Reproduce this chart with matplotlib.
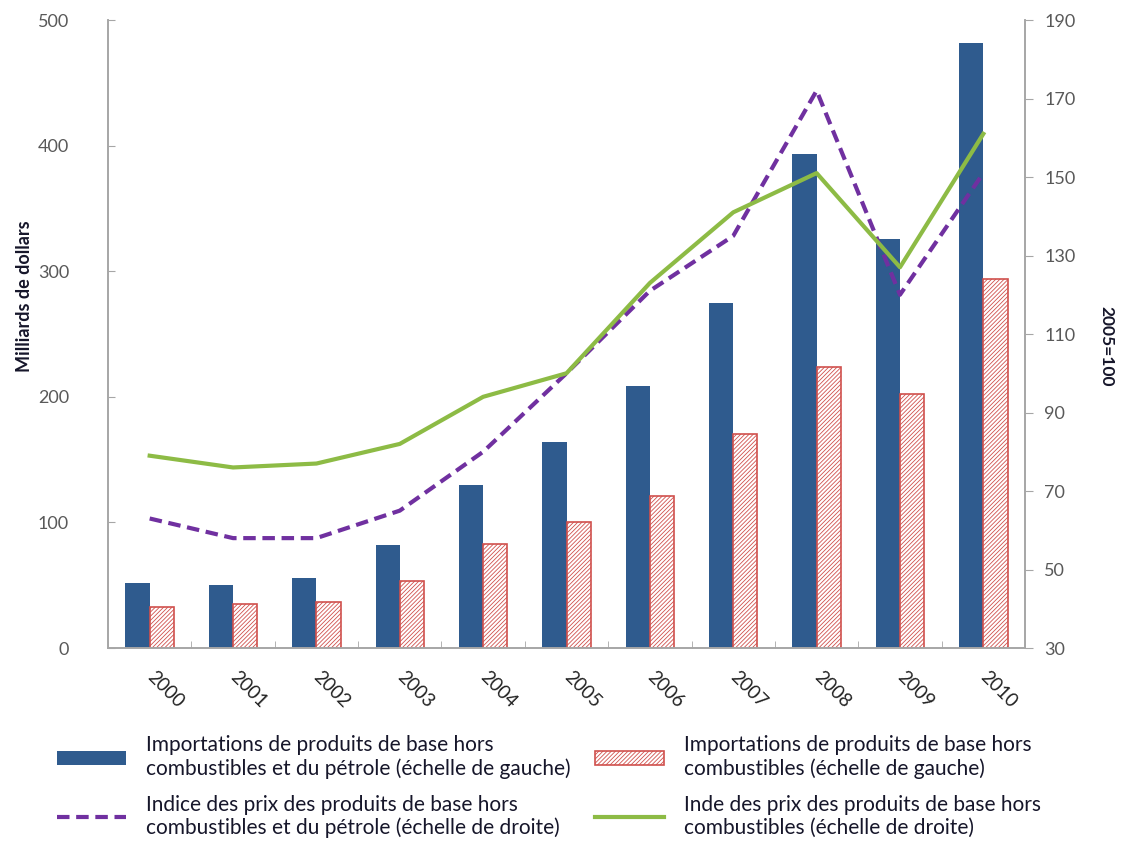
import numpy as np
import matplotlib.pyplot as plt
from matplotlib.ticker import FixedLocator

plt.rcParams['font.family'] = ['Lato', 'DejaVu Sans']
plt.rcParams['hatch.linewidth'] = 0.6
plt.rcParams['hatch.color'] = "#de8583"

# Données
annees = ["2000", "2001", "2002", "2003", "2004", "2005",
          "2006", "2007", "2008", "2009", "2010"]
imports_total = [52, 50, 56, 82, 130, 164, 209, 275, 393, 326, 482]   # Mds $
imports_hors_petrole = [33, 35, 37, 53, 83, 100, 121, 170, 224, 202, 294]
indice_total = [63, 58, 58, 65, 80, 100, 121, 135, 172, 120, 151]     # 2005=100
indice_hors_petrole = [79, 76, 77, 82, 94, 100, 123, 141, 151, 127, 161]

labels = [
    "Importations de produits de base hors\ncombustibles et du pétrole (échelle de gauche)",
    "Importations de produits de base hors\ncombustibles (échelle de gauche)",
    "Indice des prix des produits de base hors\ncombustibles et du pétrole (échelle de droite)",
    "Inde des prix des produits de base hors\ncombustibles (échelle de droite)",
]

BLEU = "#2f5b8e"
ROUGE = "#d0504d"
VIOLET = "#7030a0"
VERT = "#8dbb45"
GRIS = "#595959"
TEXTE = "#16162a"

x = np.arange(len(annees))
w = 0.29

fig = plt.figure(figsize=(11.32, 8.44), dpi=100)
ax = fig.add_axes([0.0954, 0.2322, 0.8101, 0.7441])
ax2 = ax.twinx()

b1 = ax.bar(x - w / 2, imports_total, w, color=BLEU, zorder=2)
b2 = ax.bar(x + w / 2, imports_hors_petrole, w, facecolor="white",
            edgecolor=ROUGE, hatch="////////", linewidth=1.2, zorder=2)

l1, = ax2.plot(x, indice_total, color=VIOLET, linewidth=3, linestyle=(0, (3, 1.6)))
l2, = ax2.plot(x, indice_hors_petrole, color=VERT, linewidth=3)

ax.set_xlim(-0.5, len(annees) - 0.5)
ax.set_ylim(0, 500)
ax2.set_ylim(30, 190)
ax.set_yticks(np.arange(0, 501, 100))
ax2.set_yticks(np.arange(30, 191, 20))

# années en diagonale sous l'axe
ax.set_xticks(x)
ax.set_xticklabels(annees, rotation=-45, ha="left", va="center",
                   rotation_mode="anchor")
ax.xaxis.set_minor_locator(FixedLocator(np.arange(-0.5, len(annees), 1)))
ax.tick_params(axis="x", which="major", length=0, pad=19,
               labelsize=13.5, labelcolor="#222222")
ax.tick_params(axis="x", which="minor", length=5, direction="in", color="#a6a6a6")
ax.tick_params(axis="y", length=5, direction="in", color="#a6a6a6",
               labelsize=13, labelcolor=GRIS, pad=28)
ax2.tick_params(axis="y", length=6, direction="out", color="#a6a6a6",
                labelsize=13, labelcolor=GRIS, pad=8)

for a in (ax, ax2):
    a.spines["top"].set_visible(False)
    for s in ("left", "right", "bottom"):
        a.spines[s].set_color("#a6a6a6")
        a.spines[s].set_linewidth(1.2)

ax.set_ylabel("Milliards de dollars", fontsize=13, fontweight="bold", color=TEXTE)
ax.yaxis.set_label_coords(-0.082, 0.56)
ax2.set_ylabel("2005=100", fontsize=12.5, fontweight="bold", color=TEXTE,
               rotation=-90)
ax2.yaxis.set_label_coords(1.097, 0.48)

# légende sur deux colonnes, chacune placée séparément
opts = dict(loc="upper left", frameon=False, fontsize=15, handlelength=3.3,
            handleheight=0.65, handletextpad=0.95, labelspacing=0.75,
            borderpad=0, borderaxespad=0, labelcolor=TEXTE)
fig.legend([b1, l1], [labels[0], labels[2]],
           bbox_to_anchor=(57 / 1132, 1 - 735 / 844), **opts)
fig.legend([b2, l2], [labels[1], labels[3]],
           bbox_to_anchor=(595 / 1132, 1 - 735 / 844), **opts)

fig.savefig("out.png", dpi=100)
